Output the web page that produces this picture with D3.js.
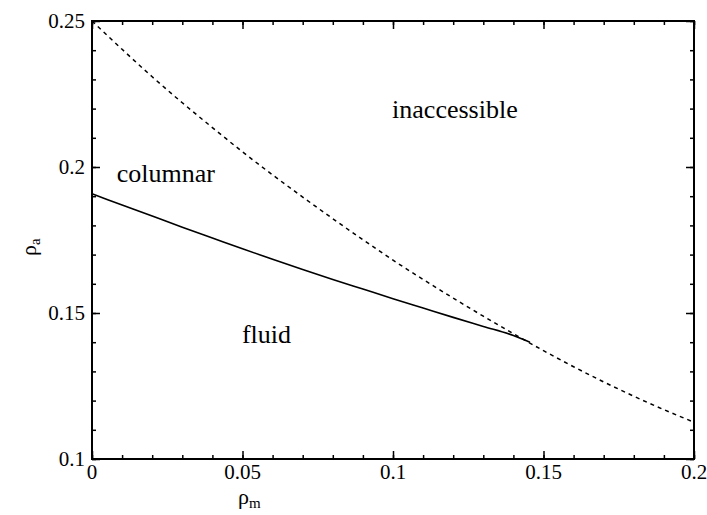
<!DOCTYPE html>
<html><head><meta charset="utf-8">
<script src="https://cdn.jsdelivr.net/npm/d3@7"></script>
<style>body{margin:0;background:#fff}svg{display:block}</style>
</head><body>
<svg id="c" width="707" height="515"></svg>
<script>
const xTicks = [0, 0.05, 0.1, 0.15, 0.2];
const xTickLabels = ["0", "0.05", "0.1", "0.15", "0.2"];
const yTicks = [0.1, 0.15, 0.2, 0.25];
const yTickLabels = ["0.1", "0.15", "0.2", "0.25"];

const dashedRhoM = [0, 0.01, 0.02, 0.03, 0.04, 0.05, 0.06, 0.07, 0.08, 0.09, 0.10, 0.11, 0.12, 0.13, 0.14, 0.15, 0.16, 0.17, 0.18, 0.19, 0.20];
const dashedRhoA = [0.2500, 0.2403, 0.2309, 0.2220, 0.2135, 0.2052, 0.1973, 0.1897, 0.1823, 0.1751, 0.1681, 0.1615, 0.1551, 0.1489, 0.1429, 0.1371, 0.1316, 0.1264, 0.1215, 0.1169, 0.1126];

const solidRhoM = [0, 0.01, 0.02, 0.03, 0.04, 0.05, 0.06, 0.07, 0.08, 0.09, 0.10, 0.11, 0.12, 0.13, 0.14, 0.1455];
const solidRhoA = [0.1908, 0.1870, 0.1832, 0.1794, 0.1757, 0.1720, 0.1684, 0.1649, 0.1615, 0.1582, 0.1549, 0.1517, 0.1485, 0.1454, 0.1423, 0.1400];

const regionLabels = ["inaccessible", "columnar", "fluid"];
const regionX = [0.0997, 0.0082, 0.0498];
const regionY = [0.2168, 0.1950, 0.1397];

const FONT = "Liberation Serif, Times New Roman, Times, DejaVu Serif, serif";

const svg = d3.select("#c").attr("font-family", FONT);
const L = 92, R = 694, T = 21, B = 459;
const x = d3.scaleLinear().domain([0, 0.2]).range([L, R]);
const y = d3.scaleLinear().domain([0.1, 0.25]).range([B, T]);

const minorX = d3.range(0, 0.2001, 0.01);
const minorY = d3.range(0.1, 0.2501, 0.01);

function ax(gen, scale, ticks, len, pos) {
  const g = svg.append("g").attr("transform", pos)
    .call(gen(scale).tickValues(ticks).tickSize(len).tickFormat(""));
  g.select(".domain").remove();
  g.selectAll("line").attr("stroke", "#000").attr("stroke-width", 1.5);
  return g;
}
ax(d3.axisBottom, x, minorX, -4, `translate(0,${B})`);
ax(d3.axisBottom, x, xTicks, -8, `translate(0,${B})`);
ax(d3.axisTop, x, minorX, -4, `translate(0,${T})`);
ax(d3.axisTop, x, xTicks, -8, `translate(0,${T})`);
ax(d3.axisLeft, y, minorY, -4, `translate(${L},0)`);
ax(d3.axisLeft, y, yTicks, -8, `translate(${L},0)`);
ax(d3.axisRight, y, minorY, -4, `translate(${R},0)`);
ax(d3.axisRight, y, yTicks, -8, `translate(${R},0)`);

svg.append("rect").attr("x", L).attr("y", T).attr("width", R - L).attr("height", B - T)
  .attr("fill", "none").attr("stroke", "#000").attr("stroke-width", 2);

svg.append("g").selectAll("text").data(xTicks).join("text")
  .attr("x", d => x(d)).attr("y", B + 20)
  .attr("text-anchor", "middle").attr("font-size", 21)
  .text((d, i) => xTickLabels[i]);
svg.append("g").selectAll("text").data(yTicks).join("text")
  .attr("x", L - 7).attr("y", d => y(d) + 7)
  .attr("text-anchor", "end").attr("font-size", 21)
  .text((d, i) => yTickLabels[i]);

const line = d3.line().x(d => x(d[0])).y(d => y(d[1])).curve(d3.curveMonotoneX);
svg.append("path").datum(dashedRhoM.map((m, i) => [m, dashedRhoA[i]]))
  .attr("d", line).attr("fill", "none").attr("stroke", "#000")
  .attr("stroke-width", 1.5).attr("stroke-dasharray", "4,4");
svg.append("path").datum(solidRhoM.map((m, i) => [m, solidRhoA[i]]))
  .attr("d", line).attr("fill", "none").attr("stroke", "#000")
  .attr("stroke-width", 1.6);

svg.append("g").selectAll("text").data(regionLabels).join("text")
  .attr("x", (d, i) => x(regionX[i])).attr("y", (d, i) => y(regionY[i]))
  .attr("font-size", 26).text(d => d);

const xt = svg.append("text").attr("x", 238).attr("y", 504).attr("font-size", 22);
xt.append("tspan").text("ρ");
xt.append("tspan").attr("font-size", 15).attr("dy", 4).text("m");

const yt = svg.append("text").attr("transform", "translate(36,256) rotate(-90)").attr("font-size", 22);
yt.append("tspan").text("ρ");
yt.append("tspan").attr("font-size", 15).attr("dy", 4).text("a");
</script>
</body></html>
